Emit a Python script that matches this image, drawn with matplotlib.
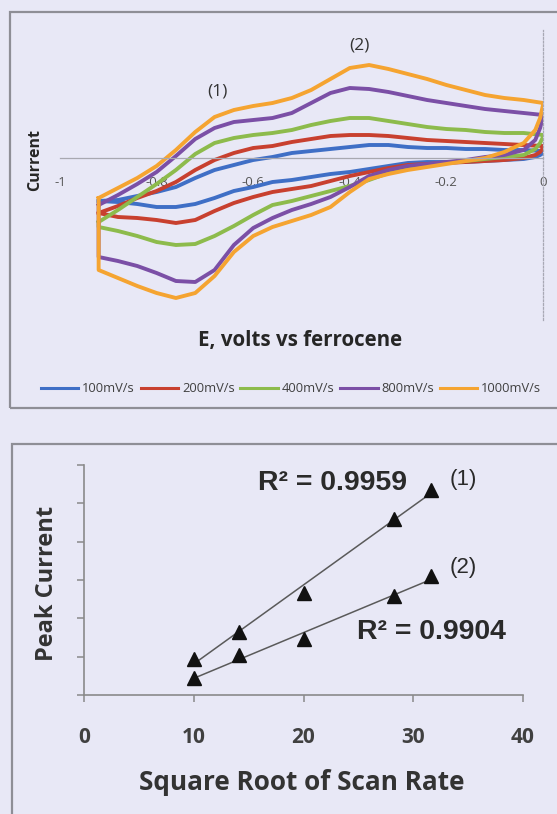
import matplotlib
matplotlib.use("Agg")
import matplotlib.pyplot as plt
import matplotlib.patches as mpatches
import numpy as np

W, H = 557, 814
BG = "#E8E8F6"

# ---------------- cyclic voltammograms ----------------
scan_labels = ["100mV/s", "200mV/s", "400mV/s", "800mV/s", "1000mV/s"]
scan_colors = ["#3F6FC6", "#C8402F", "#8DBB4C", "#7B4FA6", "#F5A431"]

# forward (anodic) sweep potentials, V vs ferrocene
E_forward = [-0.92, -0.88, -0.84, -0.80, -0.76, -0.72, -0.68, -0.64, -0.60, -0.56,
             -0.52, -0.48, -0.44, -0.40, -0.36, -0.32, -0.28, -0.24, -0.20, -0.16,
             -0.12, -0.08, -0.04, 0.00]
# reverse (cathodic) sweep potentials
E_reverse = [0.00, -0.006, -0.016, -0.04, -0.08, -0.12, -0.16, -0.20, -0.24, -0.28,
             -0.32, -0.36, -0.40, -0.44, -0.48, -0.52, -0.56, -0.60, -0.64, -0.68,
             -0.72, -0.76, -0.80, -0.84, -0.88, -0.92]

i_fwd_100 = [-4.3, -4.2, -3.8, -3.4, -2.9, -2.0, -1.2, -0.7, -0.2, 0.1, 0.5, 0.7, 0.9,
             1.1, 1.3, 1.3, 1.1, 1.0, 1.0, 0.9, 0.9, 0.8, 0.8, 0.7]
i_rev_100 = [0.5, 0.3, 0.1, -0.1, -0.2, -0.3, -0.4, -0.4, -0.4, -0.5, -0.8, -1.1, -1.4,
             -1.6, -1.9, -2.2, -2.4, -2.9, -3.3, -4.0, -4.6, -4.9, -4.9, -4.6, -4.4, -4.3]

i_fwd_200 = [-5.5, -4.8, -4.0, -3.3, -2.4, -1.2, -0.2, 0.5, 1.0, 1.2, 1.6, 1.9, 2.2,
             2.3, 2.3, 2.2, 2.0, 1.8, 1.7, 1.6, 1.5, 1.4, 1.3, 1.2]
i_rev_200 = [1.0, 0.6, 0.3, 0.0, -0.2, -0.3, -0.4, -0.5, -0.6, -0.7, -1.0, -1.4, -1.8,
             -2.3, -2.8, -3.1, -3.4, -3.9, -4.5, -5.3, -6.2, -6.5, -6.2, -6.0, -5.9, -5.5]

i_fwd_400 = [-6.4, -5.2, -3.9, -2.6, -1.2, 0.4, 1.5, 2.0, 2.3, 2.5, 2.8, 3.3, 3.7,
             4.0, 4.0, 3.7, 3.4, 3.1, 2.9, 2.8, 2.6, 2.5, 2.5, 2.3]
i_rev_400 = [2.1, 1.5, 0.9, 0.3, 0.1, -0.1, -0.3, -0.5, -0.7, -1.0, -1.5, -2.2, -2.8,
             -3.3, -3.8, -4.3, -4.7, -5.7, -6.8, -7.8, -8.6, -8.7, -8.4, -7.8, -7.3, -6.9]

i_fwd_800 = [-4.7, -3.7, -2.6, -1.4, 0.2, 1.9, 3.0, 3.6, 3.8, 4.0, 4.5, 5.5, 6.5,
             7.0, 6.9, 6.6, 6.2, 5.8, 5.5, 5.2, 4.9, 4.7, 4.5, 4.3]
i_rev_800 = [4.1, 3.0, 1.8, 0.8, 0.3, 0.1, -0.2, -0.4, -0.6, -0.8, -1.2, -1.8, -2.9,
             -3.9, -4.6, -5.2, -6.0, -7.0, -8.7, -11.2, -12.4, -12.3, -11.5, -10.8,
             -10.3, -9.9]

i_fwd_1000 = [-4.0, -3.0, -2.0, -0.8, 0.8, 2.6, 4.1, 4.8, 5.2, 5.5, 6.0, 6.8, 7.9,
              9.0, 9.3, 8.9, 8.4, 7.9, 7.3, 6.8, 6.3, 6.0, 5.8, 5.5]
i_rev_1000 = [5.3, 4.0, 2.8, 1.5, 0.6, 0.0, -0.3, -0.6, -0.9, -1.2, -1.6, -2.1, -3.4,
              -4.9, -5.7, -6.3, -6.9, -7.8, -9.4, -11.8, -13.5, -14.0, -13.5, -12.8,
              -12.0, -11.2]

i_forward = [i_fwd_100, i_fwd_200, i_fwd_400, i_fwd_800, i_fwd_1000]
i_reverse = [i_rev_100, i_rev_200, i_rev_400, i_rev_800, i_rev_1000]

cv_xticks = [-1, -0.8, -0.6, -0.4, -0.2, 0]
cv_xticklabels = ["-1", "-0.8", "-0.6", "-0.4", "-0.2", "0"]

# ---------------- peak current vs sqrt(scan rate) ----------------
sqrt_scan_rate = [10, 14.14, 20, 28.28, 31.62]
peak_1 = [0.94, 1.64, 2.66, 4.60, 5.35]
peak_2 = [0.44, 1.04, 1.46, 2.58, 3.10]
r2_1 = "R\u00b2 = 0.9959"
r2_2 = "R\u00b2 = 0.9904"
peak_xticks = [0, 10, 20, 30, 40]


def fx(px):
    return px / W


def fy(py):
    return 1 - py / H


fig = plt.figure(figsize=(W / 100, H / 100), dpi=100, facecolor=BG)

# panel frames
for (x0, y0, x1, y1) in [(10, 12, 575, 408), (12, 444, 575, 830)]:
    fig.patches.append(mpatches.Rectangle((fx(x0), fy(y1)), fx(x1) - fx(x0), fy(y0) - fy(y1),
                                          transform=fig.transFigure, fill=False,
                                          edgecolor="#8E8E96", lw=1.6))

# ---------- top: CV loops ----------
ax1 = fig.add_axes([fx(60), fy(320), fx(543) - fx(60), fy(30) - fy(320)])
ax1.set_facecolor("none")
handles = []
for lab, col, f, r in zip(scan_labels, scan_colors, i_forward, i_reverse):
    E = list(E_forward) + list(E_reverse) + [E_forward[0]]
    I = list(f) + list(r) + [f[0]]
    (h,) = ax1.plot(E, I, color=col, lw=2.8, solid_joinstyle="round", label=lab)
    handles.append(h)
ax1.set_xlim(-1, 0)
ax1.set_ylim(-16.2, 12.8)
for s in ("top", "left"):
    ax1.spines[s].set_visible(False)
ax1.spines["bottom"].set_position(("data", 0))
ax1.spines["bottom"].set_color("#A8A8B0")
ax1.spines["bottom"].set_linewidth(0.9)
ax1.spines["right"].set_color("#A8A8B4")
ax1.spines["right"].set_linewidth(0.9)
ax1.spines["right"].set_linestyle((0, (1.5, 1.5)))
ax1.set_yticks([])
ax1.set_xticks(cv_xticks)
ax1.set_xticklabels(cv_xticklabels)
ax1.tick_params(axis="x", length=0, pad=13, labelsize=9.5, labelcolor="#555555")
for t in ax1.get_xticklabels():
    t.set_fontfamily("Open Sans")

fig.text(fx(35), fy(160), "Current", rotation=90, ha="center", va="center",
         fontsize=11.5, fontweight="bold", family="Open Sans", color="#262626")
fig.text(fx(300), fy(341), "E, volts vs ferrocene", ha="center", va="center",
         fontsize=14.8, fontweight="bold", family="Open Sans", color="#262626")
fig.text(fx(217), fy(92), "(1)", ha="center", va="center", fontsize=12.5,
         family="Open Sans", color="#333333")
fig.text(fx(359), fy(45), "(2)", ha="center", va="center", fontsize=12.5,
         family="Open Sans", color="#333333")

leg = fig.legend(handles=handles, labels=scan_labels, loc="center",
                 bbox_to_anchor=(fx(291), fy(389)), ncol=5, frameon=False,
                 handlelength=2.9, handletextpad=0.3, columnspacing=0.45,
                 prop={"family": "Open Sans", "size": 9.3})
for line in leg.get_lines():
    line.set_linewidth(2.2)
for t in leg.get_texts():
    t.set_color("#404040")

# ---------- bottom: peak current ----------
ax2 = fig.add_axes([fx(84), fy(695), fx(523) - fx(84), fy(465) - fy(695)])
ax2.set_facecolor("none")
ax2.set_xlim(0, 40)
ax2.set_ylim(0, 6)
for xs, ys in [(sqrt_scan_rate, peak_1), (sqrt_scan_rate, peak_2)]:
    k, b = np.polyfit(xs, ys, 1)
    xfit = np.array([min(xs), max(xs)])
    ax2.plot(xfit, k * xfit + b, color="#5A5A5A", lw=1.1, zorder=2)
    ax2.plot(xs, ys, linestyle="none", marker="^", markersize=10.5,
             color="#111111", zorder=3)
for s in ("top", "right"):
    ax2.spines[s].set_visible(False)
for s in ("left", "bottom"):
    ax2.spines[s].set_color("#8A8A8A")
    ax2.spines[s].set_linewidth(1.2)
ax2.set_yticks(range(0, 7))
ax2.set_yticklabels([])
ax2.set_xticks(peak_xticks)
ax2.set_xticklabels([str(v) for v in peak_xticks])
ax2.tick_params(axis="both", direction="out", length=5, width=1.1, color="#8A8A8A")
ax2.tick_params(axis="x", pad=18, labelsize=15, labelcolor="#404040")
for t in ax2.get_xticklabels():
    t.set_fontfamily("Open Sans")
    t.set_fontweight("bold")

fig.text(fx(47), fy(583), "Peak Current", rotation=90, ha="center", va="center",
         fontsize=17, fontweight="bold", family="Open Sans", color="#333333")
fig.text(fx(302), fy(782), "Square Root of Scan Rate", ha="center", va="center",
         fontsize=18.8, fontweight="bold", family="Open Sans", color="#333333")
fig.text(fx(333), fy(483), r2_1, ha="center", va="center", fontsize=20.5,
         fontweight="bold", family="Liberation Sans", color="#2A2A2A")
fig.text(fx(431), fy(632), r2_2, ha="center", va="center", fontsize=20.5,
         fontweight="bold", family="Liberation Sans", color="#2A2A2A")
fig.text(fx(463), fy(480), "(1)", ha="center", va="center", fontsize=16,
         family="Liberation Sans", color="#2A2A2A")
fig.text(fx(463), fy(568), "(2)", ha="center", va="center", fontsize=16,
         family="Liberation Sans", color="#2A2A2A")

fig.savefig("out.png", dpi=100, facecolor=BG)
